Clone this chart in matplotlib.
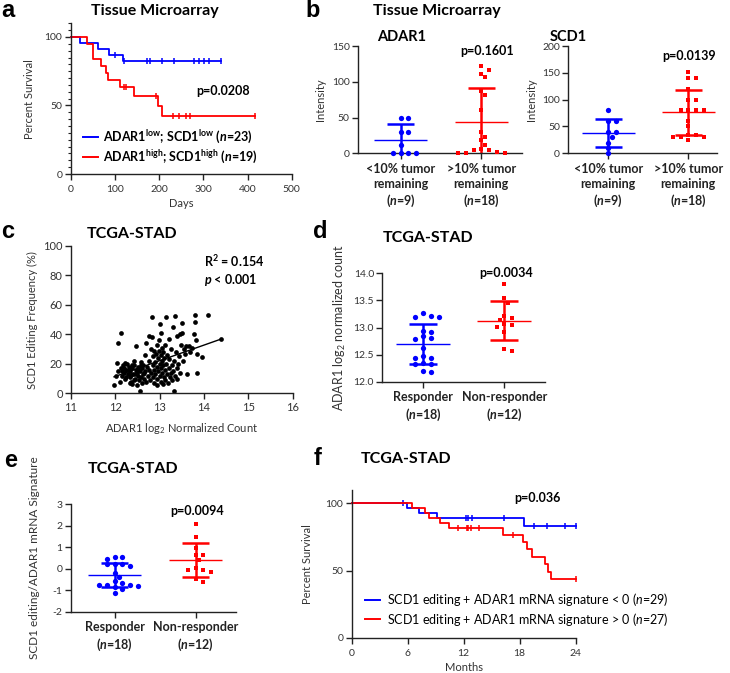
import matplotlib
matplotlib.use('Agg')
import matplotlib.pyplot as plt
import numpy as np
from matplotlib.lines import Line2D
from matplotlib.ticker import MultipleLocator, FormatStrFormatter

plt.rcParams['font.family'] = ['Lato', 'DejaVu Sans']
plt.rcParams['mathtext.fontset'] = 'custom'
plt.rcParams['mathtext.rm'] = 'Lato'
plt.rcParams['mathtext.it'] = 'Lato:italic'
plt.rcParams['mathtext.bf'] = 'Lato:bold'
plt.rcParams['mathtext.bfit'] = 'Lato:italic:bold'
plt.rcParams['axes.unicode_minus'] = False

BLUE = '#0000ff'
RED = '#ff0000'
INK = '#222222'
GREY = '#333333'

# ---- a: Kaplan-Meier, tissue microarray (days, 1 = death, 0 = censored)
a_low_days = [21, 62, 87, 100, 119, 121, 172, 172, 179, 179, 206, 206, 234, 234,
              278, 291, 291, 302, 302, 314, 314, 340, 340]
a_low_event = [1, 1, 1, 0, 1, 0, 0, 0, 0, 0, 0, 0, 0, 0, 0, 0, 0, 0, 0, 0, 0, 0, 0]
a_high_days = [36, 51, 51, 69, 80, 85, 111, 121, 125, 143, 194, 198, 207, 232, 245,
               260, 270, 418, 418]
a_high_event = [1, 1, 1, 1, 1, 1, 1, 0, 0, 1, 0, 1, 1, 0, 0, 0, 0, 0, 0]

# ---- b: intensity by tumor regression
adar1_low = [50, 50, 30, 30, 12, 0, 0, 0, 0]
adar1_high = [121.5, 116.8, 111, 106, 87, 81, 61, 30, 23, 18, 11, 5.6, 2.3, 0, 4.7, 0, 4.7, 0]
scd1_low = [81, 61, 61, 40, 40, 31, 20, 10, 0]
scd1_high = [152, 141, 141, 120, 100, 100, 80, 80, 80, 80, 60, 50, 35, 35, 30, 30, 30, 25]
b_groups = ['<10% tumor\nremaining\n($\\mathbfit{n}$=9)', '>10% tumor\nremaining\n($\\mathbfit{n}$=18)']

# ---- c: ADAR1 count vs SCD1 editing
c_adar1 = [11.97, 12.05, 12.13, 12.03, 12.07, 12.02, 12.12, 12.15, 12.18, 12.2, 12.22, 12.25,
           12.27, 12.28, 12.3, 12.32, 12.34, 12.35, 12.37, 12.38, 12.4, 12.42, 12.43, 12.45,
           12.46, 12.47, 12.48, 12.5, 12.52, 12.53, 12.55, 12.56, 12.57, 12.58, 12.6, 12.6,
           12.62, 12.63, 12.65, 12.66, 12.68, 12.7, 12.7, 12.72, 12.73, 12.75, 12.75, 12.77,
           12.78, 12.8, 12.8, 12.82, 12.83, 12.84, 12.85, 12.86, 12.87, 12.88, 12.88, 12.9,
           12.9, 12.92, 12.93, 12.94, 12.95, 12.95, 12.96, 12.97, 12.98, 12.99, 13.0, 13.0,
           13.01, 13.02, 13.02, 13.03, 13.04, 13.05, 13.05, 13.06, 13.07, 13.08, 13.08, 13.1,
           13.1, 13.12, 13.12, 13.13, 13.14, 13.15, 13.16, 13.17, 13.18, 13.2, 13.2, 13.22,
           13.23, 13.25, 13.26, 13.27, 13.28, 13.3, 13.3, 13.32, 13.33, 13.34, 13.35, 13.36,
           13.38, 13.4, 13.4, 13.42, 13.44, 13.45, 13.46, 13.48, 13.5, 13.5, 13.52, 13.55,
           13.57, 13.6, 13.62, 13.65, 13.68, 13.72, 13.78, 13.8, 13.8, 13.82, 13.84, 13.85,
           13.95, 14.08, 14.38, 12.1, 12.2, 12.25, 12.3, 12.15, 12.38, 12.42, 12.5, 12.44,
           12.33, 12.58, 12.65, 12.35, 12.48, 12.22]
c_editing = [5.5, 34, 41, 20.5, 15, 12, 17, 12, 19, 14, 10, 16,
             20, 13, 18, 11, 15, 8, 17, 6, 13, 19, 22, 10,
             16, 32, 14, 12, 18, 9, 15, 1.5, 21, 11, 7, 17,
             13, 19, 10, 26, 15, 34, 8, 18, 12, 39, 22, 16,
             9, 14, 30, 52, 38, 19, 11, 25, 7, 29, 16, 21,
             13, 27, 5.5, 33, 18, 10, 24, 15, 29, 36, 12, 20,
             47, 26, 41, 8, 17, 31, 14, 22, 6, 19, 28, 11,
             24, 16, 33, 9, 52, 20, 13, 26, 7, 17, 37, 23,
             11, 14, 30, 19, 9, 45, 15, 22, 1.5, 52.5, 12, 28,
             17, 39, 10, 20, 25, 40, 14, 33, 48, 41, 22, 30,
             27, 32, 13, 32, 28, 31, 40, 53, 48.5, 36, 27, 13.5,
             24.5, 53, 37, 8, 17.5, 11, 15.5, 15, 19.5, 9, 16.5, 13,
             7, 19, 13.5, 12.5, 5.5, 20.5]

# ---- d: ADAR1 by response
d_resp = [13.26, 13.21, 13.20, 13.19, 12.94, 12.91, 12.84, 12.79, 12.81, 12.62,
          12.48, 12.43, 12.43, 12.35, 12.32, 12.32, 12.19, 12.17]
d_nonresp = [13.80, 13.54, 13.46, 13.22, 13.17, 13.14, 13.04, 13.01, 13.06, 12.92, 12.60, 12.57]

# ---- e: signature by response
e_resp = [0.54, 0.54, 0.46, 0.20, 0.22, 0.20, 0.12, -0.20, -0.38, -0.58, -0.65, -0.74,
          -0.74, -0.77, -0.80, -0.85, -0.92, -1.12]
e_nonresp = [2.08, 1.49, 0.97, 0.62, 0.62, 0.42, -0.05, -0.05, 0.03, -0.15, -0.46, -0.62]
resp_groups = ['Responder\n($\\mathbfit{n}$=18)', 'Non-responder\n($\\mathbfit{n}$=12)']

# ---- f: Kaplan-Meier, TCGA-STAD (months)
f_neg_months = [5.5, 5.9, 7.2, 9.1, 12.3, 12.3, 12.3, 12.5, 12.5, 12.5, 12.9, 12.9, 12.9,
                16.3, 16.3, 18.5, 19.5, 20.9, 22.9] + [24] * 10
f_neg_event = [0, 1, 1, 1] + [0] * 11 + [1] + [0] * 13
f_pos_months = [6.5, 7.9, 8.25, 9.5, 10.4, 11.45, 12.35, 12.52, 12.8, 13.6, 16.2, 17.3, 17.3,
                18.4, 18.8, 19.3, 20.7, 21.0, 21.4] + [24] * 8
f_pos_event = [1, 1, 1, 1, 1, 0, 0, 0, 0, 0, 1, 0, 0, 1, 1, 1, 1, 1, 1] + [0] * 8

W, H = 730, 673
fig = plt.figure(figsize=(W / 100, H / 100), dpi=100)


def box(l, t, r, b):
    ax = fig.add_axes([l / W, 1 - b / H, (r - l) / W, (b - t) / H])
    for s in ('top', 'right'):
        ax.spines[s].set_visible(False)
    for s in ('left', 'bottom'):
        ax.spines[s].set_color(INK)
        ax.spines[s].set_linewidth(1.0)
    ax.tick_params(direction='out', length=4, width=1, color=INK, labelsize=7.5,
                   labelcolor=GREY, pad=2)
    ax.patch.set_alpha(0)
    return ax


def ftext(x, y, s, **kw):
    kw.setdefault('va', 'baseline')
    fig.text(x / W, 1 - y / H, s, **kw)


def fline(x0, x1, y, color):
    fig.add_artist(Line2D([x0 / W, x1 / W], [1 - y / H, 1 - y / H], color=color, lw=1.4,
                          transform=fig.transFigure))


def km(times, events):
    t = np.asarray(times, float)
    e = np.asarray(events, int)
    n = len(t)
    s = 100.0
    xs, ys, cx, cy = [0.0], [100.0], [], []
    for ut in np.unique(t):
        m = t == ut
        d = e[m].sum()
        if d:
            s *= 1 - d / n
            xs.append(ut)
            ys.append(s)
        if (m & (e == 0)).any():
            cx.append(ut)
            cy.append(s)
        n -= m.sum()
    xs.append(t.max())
    ys.append(s)
    return xs, ys, cx, cy


def draw_km(ax, times, events, color):
    xs, ys, cx, cy = km(times, events)
    ax.step(xs, ys, where='post', color=color, lw=1.3, clip_on=False)
    ax.plot(cx, cy, '|', color=color, ms=5, mew=1.1, clip_on=False)


def swarm(ax, center, values, dmin=5.2, step=3.9):
    vals = np.asarray(values, float)
    pts = ax.transData.transform(np.column_stack([np.full(len(vals), center), vals]))
    cx = pts[0, 0]
    cands = [0.0] + [sg * j * step for j in range(1, 25) for sg in (1, -1)]
    placed, xs = [], np.zeros(len(vals))
    for i in np.argsort(-vals, kind='stable'):
        py = pts[i, 1]
        for off in cands:
            if all((off - ox) ** 2 + (py - oy) ** 2 >= dmin ** 2 for ox, oy in placed):
                break
        placed.append((off, py))
        xs[i] = cx + off
    return ax.transData.inverted().transform(np.column_stack([xs, pts[:, 1]]))[:, 0]


def dotplot(ax, groups):
    for pos, (vals, color, marker, ms) in enumerate(groups):
        v = np.asarray(vals, float)
        m, sd = v.mean(), v.std(ddof=1)
        ax.hlines(m, pos - 0.33, pos + 0.33, color=color, lw=1.0)
        ax.vlines(pos, m - sd, m + sd, color=color, lw=1.8)
        ax.hlines([m - sd, m + sd], pos - 0.17, pos + 0.17, color=color, lw=1.8)
        ax.plot(swarm(ax, pos, v), v, marker, color=color, ms=ms, mew=0,
                ls='none', clip_on=False, zorder=3)


def cat_axis(ax, labels, size=9):
    ax.set_xticks([0, 1])
    ax.set_xticklabels(labels, fontsize=size, fontweight='bold', color=INK, linespacing=1.25)
    ax.tick_params(axis='x', labelcolor=INK, pad=3)


# ---------------- a
ax = box(70.7, 23.3, 291.7, 174)
ax.set_xlim(0, 500)
ax.set_ylim(0, 110)
ax.set_xticks(range(0, 501, 100))
ax.set_yticks([0, 50, 100])
ax.yaxis.set_minor_locator(MultipleLocator(5))
ax.tick_params(which='minor', length=2, width=0.8, color=INK)
ax.tick_params(axis='x', pad=4)
draw_km(ax, a_low_days, a_low_event, BLUE)
draw_km(ax, a_high_days, a_high_event, RED)
ax.set_ylabel('Percent Survival', fontsize=8, color=GREY, labelpad=7)
ax.set_xlabel('Days', fontsize=8, color=GREY, labelpad=3)
ftext(223, 95, 'p=0.0208', fontsize=9, fontweight='bold', ha='center')
fline(83, 98, 137, BLUE)
fline(83, 98, 157, RED)
ftext(103, 137, 'ADAR1$^{\\mathbf{low}}$; SCD1$^{\\mathbf{low}}$ ($\\mathbfit{n}$=23)',
      fontsize=9, fontweight='bold', va='center')
ftext(103, 157, 'ADAR1$^{\\mathbf{high}}$; SCD1$^{\\mathbf{high}}$ ($\\mathbfit{n}$=19)',
      fontsize=9, fontweight='bold', va='center')
ftext(155, 15, 'Tissue Microarray', fontsize=11.5, fontweight='bold', ha='center')

# ---------------- b
ax = box(358, 46, 521.7, 153.3)
ax.set_xlim(-0.527, 1.5)
ax.set_ylim(0, 150)
ax.set_yticks([0, 50, 100, 150])
dotplot(ax, [(adar1_low, BLUE, 'o', 3.8), (adar1_high, RED, 's', 3.4)])
cat_axis(ax, b_groups)
ax.set_ylabel('Intensity', fontsize=8, color=GREY, labelpad=4)
ftext(377, 40.7, 'ADAR1', fontsize=10.5, fontweight='bold')
ftext(486.7, 55, 'p=0.1601', fontsize=9, fontweight='bold', ha='center')

ax = box(568.3, 46, 716.7, 153.3)
ax.set_xlim(-0.5, 1.355)
ax.set_ylim(0, 200)
ax.set_yticks([0, 50, 100, 150, 200])
dotplot(ax, [(scd1_low, BLUE, 'o', 3.8), (scd1_high, RED, 's', 3.4)])
cat_axis(ax, b_groups)
ax.set_ylabel('Intensity', fontsize=8, color=GREY, labelpad=4)
ftext(550, 40.7, 'SCD1', fontsize=10.5, fontweight='bold')
ftext(689, 60, 'p=0.0139', fontsize=9, fontweight='bold', ha='center')
ftext(373, 15, 'Tissue Microarray', fontsize=11.5, fontweight='bold')

# ---------------- c
ax = box(71, 246, 292.7, 393.3)
ax.set_xlim(11, 16)
ax.set_ylim(0, 100)
ax.set_yticks(range(0, 101, 20))
ax.tick_params(labelsize=8)
ax.plot(c_adar1, c_editing, 'o', color='black', ms=3.4, mew=0, clip_on=False)
k, b0 = np.polyfit(c_adar1, c_editing, 1)
xr = np.array([min(c_adar1), max(c_adar1)])
ax.plot(xr, k * xr + b0, color='black', lw=1.0)
ax.set_xlabel('ADAR1 log$_2$ Normalized Count', fontsize=8, color=GREY, labelpad=6)
ax.set_ylabel('SCD1 Editing Frequency (%)', fontsize=8, color=GREY, labelpad=4)
ftext(204, 266.7, 'R$^{\\mathbf{2}}$ = 0.154', fontsize=9, fontweight='bold')
ftext(204, 284, '$\\mathbfit{p}$ < 0.001', fontsize=9, fontweight='bold')
ftext(132, 238, 'TCGA-STAD', fontsize=11.5, fontweight='bold', ha='center')

# ---------------- d
ax = box(382.3, 273.3, 545, 381.7)
ax.set_xlim(-0.5, 1.5)
ax.set_ylim(12, 14)
ax.set_yticks([12.0, 12.5, 13.0, 13.5, 14.0])
ax.yaxis.set_major_formatter(FormatStrFormatter('%.1f'))
dotplot(ax, [(d_resp, BLUE, 'o', 3.8), (d_nonresp, RED, 's', 3.4)])
cat_axis(ax, resp_groups)
ax.set_ylabel('ADAR1 log$_2$ normalized count', fontsize=9, color=GREY, labelpad=4)
ftext(506, 277.3, 'p=0.0034', fontsize=9, fontweight='bold', ha='center')
ftext(428, 242, 'TCGA-STAD', fontsize=11.5, fontweight='bold', ha='center')

# ---------------- e
ax = box(71, 504.3, 236, 611.7)
ax.set_xlim(-0.54, 1.5)
ax.set_ylim(-2, 3)
ax.set_yticks(range(-2, 4))
dotplot(ax, [(e_resp, BLUE, 'o', 3.8), (e_nonresp, RED, 's', 3.4)])
cat_axis(ax, resp_groups)
ax.set_ylabel('SCD1 editing/ADAR1 mRNA Signature', fontsize=8.5, color=GREY, labelpad=9)
ftext(196.7, 515, 'p=0.0094', fontsize=9, fontweight='bold', ha='center')
ftext(133, 473.3, 'TCGA-STAD', fontsize=11.5, fontweight='bold', ha='center')

# ---------------- f
ax = box(351.5, 490, 575.7, 637.7)
ax.set_xlim(0, 24)
ax.set_ylim(0, 110)
ax.set_xticks(range(0, 25, 6))
ax.set_yticks([0, 50, 100])
ax.tick_params(axis='x', pad=4)
draw_km(ax, f_neg_months, f_neg_event, BLUE)
draw_km(ax, f_pos_months, f_pos_event, RED)
ax.set_ylabel('Percent Survival', fontsize=8, color=GREY, labelpad=9)
ax.set_xlabel('Months', fontsize=8, color=GREY, labelpad=3)
ftext(537, 501.7, 'p=0.036', fontsize=9, fontweight='bold', ha='center')
fline(365, 380, 600, BLUE)
fline(365, 380, 619, RED)
ftext(386.7, 600, 'SCD1 editing + ADAR1 mRNA signature < 0 ($\\mathit{n}$=29)', fontsize=9,
      va='center')
ftext(386.7, 619, 'SCD1 editing + ADAR1 mRNA signature > 0 ($\\mathit{n}$=27)', fontsize=9,
      va='center')
ftext(406, 463.3, 'TCGA-STAD', fontsize=11.5, fontweight='bold', ha='center')

# panel letters
for letter, x, y in [('a', 1, 17), ('b', 305, 17), ('c', 1, 238), ('d', 313, 238),
                     ('e', 4, 467), ('f', 314, 465)]:
    ftext(x, y, letter, fontsize=17, fontweight='bold', family='Liberation Sans')

fig.savefig('out.png', dpi=100)
